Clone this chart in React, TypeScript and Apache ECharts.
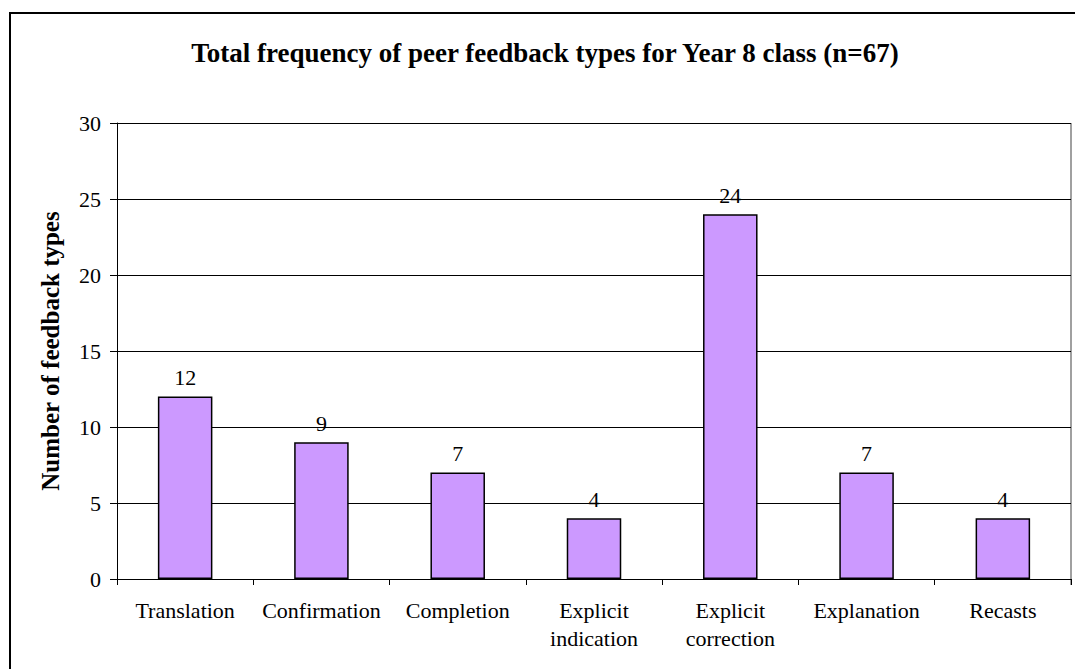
import React, { useEffect, useRef } from "react";
import * as echarts from "echarts";

const categories = [
  "Translation",
  "Confirmation",
  "Completion",
  "Explicit\nindication",
  "Explicit\ncorrection",
  "Explanation",
  "Recasts",
];
const values = [12, 9, 7, 4, 24, 7, 4];
const yTicks = { min: 0, max: 30, interval: 5 };
const titleText = "Total frequency of peer feedback types for Year 8 class (n=67)";
const yName = "Number of feedback types";

const FONT = "'Liberation Serif', 'Times New Roman', serif";

export default function App() {
  const ref = useRef<HTMLDivElement>(null);
  useEffect(() => {
    if (!ref.current) return;
    const chart = echarts.init(ref.current, undefined, { renderer: "svg" });
    chart.setOption({
      animation: false,
      backgroundColor: "#ffffff",
      title: {
        text: titleText,
        left: 540,
        textAlign: "center",
        top: 34,
        textStyle: { fontFamily: FONT, fontSize: 27, fontWeight: "bold", color: "#000" },
      },
      graphic: [
        {
          type: "rect",
          shape: { x: 10, y: 13, width: 1100, height: 700 },
          style: { fill: "none", stroke: "#000", lineWidth: 2 },
          silent: true,
        },
        {
          type: "line",
          shape: { x1: 1071, y1: 123, x2: 1071, y2: 585 },
          style: { stroke: "#808080", lineWidth: 1.5 },
          silent: true,
        },
      ],
      grid: { left: 117, right: 4, top: 123, bottom: 90, containLabel: false },
      xAxis: {
        type: "category",
        data: categories,
        axisLine: { show: true, lineStyle: { color: "#000", width: 1 } },
        axisTick: { show: true, alignWithLabel: false, length: 6, lineStyle: { color: "#000" } },
        axisLabel: {
          fontFamily: FONT,
          fontSize: 22,
          color: "#000",
          margin: 17,
          lineHeight: 28,
          interval: 0,
        },
      },
      yAxis: {
        type: "value",
        min: yTicks.min,
        max: yTicks.max,
        interval: yTicks.interval,
        name: yName,
        nameLocation: "middle",
        nameGap: 54,
        nameTextStyle: { fontFamily: FONT, fontSize: 25, fontWeight: "bold", color: "#000" },
        axisLine: { show: true, lineStyle: { color: "#000", width: 1 } },
        axisTick: { show: true, length: 7, inside: false, lineStyle: { color: "#000" } },
        axisLabel: { fontFamily: FONT, fontSize: 22, color: "#000", margin: 16 },
        splitLine: { show: true, lineStyle: { color: "#000", width: 1 } },
      },
      series: [
        {
          type: "bar",
          data: values,
          barWidth: "40%",
          itemStyle: { color: "#CC99FF", borderColor: "#000", borderWidth: 1.5 },
          label: {
            show: true,
            position: "top",
            distance: 8,
            fontFamily: FONT,
            fontSize: 22,
            color: "#000",
          },
        },
      ],
    });
    return () => chart.dispose();
  }, []);
  return (
    <div
      ref={ref}
      style={{ position: "fixed", left: 0, top: 0, width: 1075, height: 669 }}
    />
  );
}
